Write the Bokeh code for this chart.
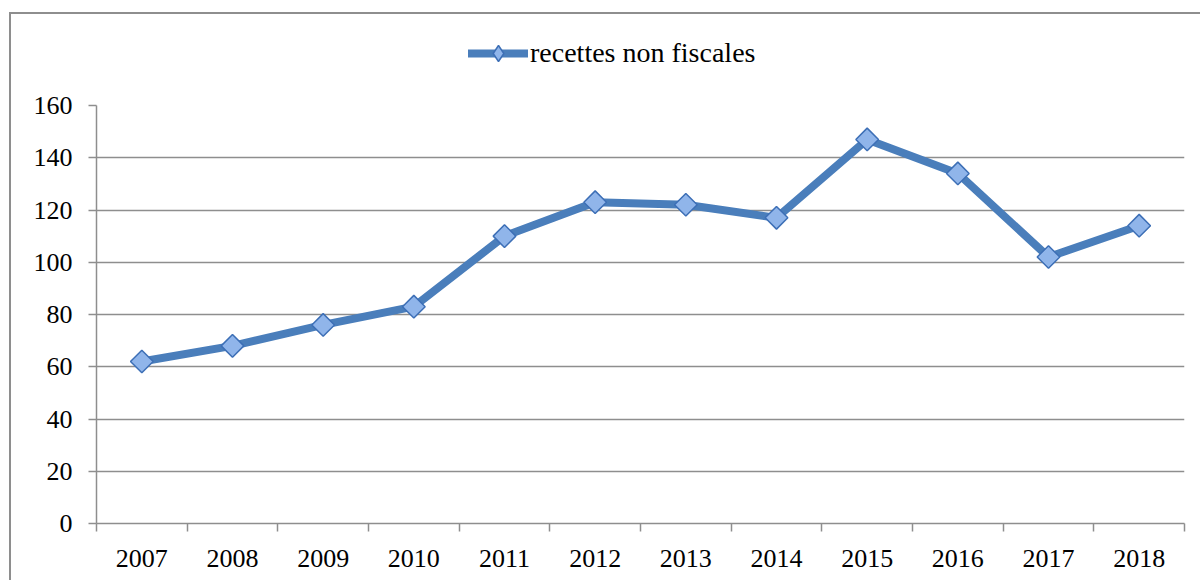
from bokeh.plotting import figure
from bokeh.layouts import column
from bokeh.models import FixedTicker, Legend, LegendItem, Range1d
from bokeh.embed import file_html
from bokeh.resources import INLINE
import numpy as np

years = ["2007", "2008", "2009", "2010", "2011", "2012", "2013", "2014", "2015", "2016", "2017", "2018"]
values = [62, 68, 76, 83, 110, 123, 122, 117, 147, 134, 102, 114]
y_ticks = [0, 20, 40, 60, 80, 100, 120, 140, 160]
series_name = "recettes non fiscales"

n = len(years)
x = [i + 0.5 for i in range(n)]
boundaries = list(range(n + 1))

GRAY = "#8e8e8e"
FONT = "Liberation Serif"
FS = "26px"
LINE_COLOR = "#4a7ebb"
MARK_FILL = "#90b5ea"
MARK_LINE = "#3d6fb6"

# ---- legend strip (top of the chart area) ----
# its ranges exclude the data, so only the legend entry is visible here
lf = figure(width=1189, height=75, output_backend="svg", toolbar_location=None,
            x_axis_type=None, y_axis_type=None,
            x_range=Range1d(0, n), y_range=Range1d(-2, -1),
            min_border_left=85, min_border_right=16, min_border_top=0, min_border_bottom=0)
lf.outline_line_color = None
lf.xgrid.grid_line_color = None
lf.ygrid.grid_line_color = None
lln = lf.line(x, values, line_width=8, line_color=LINE_COLOR, line_cap="round")
lsc = lf.scatter(x, values, marker="diamond", size=22,
                 fill_color=MARK_FILL, line_color=MARK_LINE, line_width=1.5)
legend = Legend(items=[LegendItem(label=series_name, renderers=[lln, lsc])],
                location=(372, 16), padding=0, margin=0, border_line_color=None,
                background_fill_alpha=0, glyph_width=60, glyph_height=40, label_height=40,
                label_standoff=2, label_text_font=FONT, label_text_font_size="28px",
                label_text_color="black")
lf.add_layout(legend, "center")

# ---- main chart ----
p = figure(width=1189, height=491, output_backend="svg", toolbar_location=None,
           x_range=Range1d(0, n), y_range=Range1d(0, 160),
           min_border_left=85, min_border_right=16, min_border_top=16, min_border_bottom=57)
p.outline_line_color = None

# y axis
p.yaxis.ticker = FixedTicker(ticks=y_ticks)
p.yaxis.axis_line_color = GRAY
p.yaxis.axis_line_width = 1.5
p.yaxis.major_tick_line_color = GRAY
p.yaxis.major_tick_line_width = 1.5
p.yaxis.major_tick_out = 8
p.yaxis.major_tick_in = 0
p.yaxis.minor_tick_line_color = None
p.yaxis.major_label_standoff = 16
p.yaxis.major_label_text_font = FONT
p.yaxis.major_label_text_font_size = FS
p.yaxis.major_label_text_color = "black"

# x axis: labels at category centres, ticks at category boundaries
p.xaxis.ticker = FixedTicker(ticks=x, minor_ticks=boundaries)
p.xaxis.major_label_overrides = {xi: yr for xi, yr in zip(x, years)}
p.xaxis.axis_line_color = GRAY
p.xaxis.axis_line_width = 1.5
p.xaxis.major_tick_line_color = None
p.xaxis.major_tick_out = 0
p.xaxis.major_tick_in = 0
p.xaxis.minor_tick_line_color = GRAY
p.xaxis.minor_tick_line_width = 1.5
p.xaxis.minor_tick_out = 8
p.xaxis.minor_tick_in = 0
p.xaxis.major_label_standoff = 18
p.xaxis.major_label_text_font = FONT
p.xaxis.major_label_text_font_size = FS
p.xaxis.major_label_text_color = "black"

p.xgrid.grid_line_color = None
p.ygrid.grid_line_color = GRAY
p.ygrid.grid_line_width = 1.5

p.line(x, values, line_width=8, line_color=LINE_COLOR, line_join="round", line_cap="round")
p.scatter(x, values, marker="square", angle=np.pi / 4, size=16,
          fill_color=MARK_FILL, line_color=MARK_LINE, line_width=1.5)

layout = column(lf, p, spacing=0)
layout.margin = (12, 0, 0, 9)
layout.styles = {"border-left": f"2px solid {GRAY}", "border-top": f"2px solid {GRAY}"}

open("out.html", "w").write(file_html(layout, INLINE))
